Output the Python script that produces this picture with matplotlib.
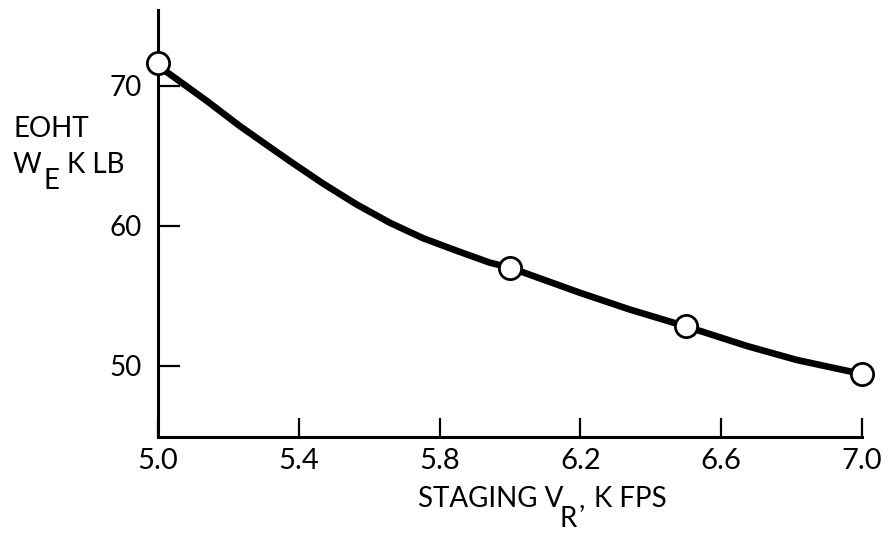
import numpy as np
import matplotlib
matplotlib.use("Agg")
import matplotlib.pyplot as plt

plt.rcParams['font.family'] = ['Lato', 'DejaVu Sans']

# data points (circles)
vr = [5.0, 6.0, 6.5, 7.0]
we = [71.6, 57.0, 52.8, 49.4]

# faired curve
curve_x = [5.0, 5.04, 5.139, 5.233, 5.318, 5.375, 5.469, 5.565, 5.659, 5.753,
           5.849, 5.943, 6.0, 6.199, 6.341, 6.5, 6.673, 6.815, 7.0]
curve_y = [71.4, 70.7, 68.9, 67.1, 65.6, 64.6, 63.0, 61.5, 60.2, 59.1,
           58.2, 57.35, 57.0, 55.2, 54.0, 52.8, 51.4, 50.4, 49.4]

xticks = [5.0, 5.4, 5.8, 6.2, 6.6, 7.0]
yticks = [50, 60, 70]

W, H = 889, 534
fig = plt.figure(figsize=(W / 100, H / 100), dpi=100)
ax = fig.add_axes([158 / W, (H - 437) / H, (862 - 158) / W, (437 - 10) / H])

ax.plot(curve_x, curve_y, color='black', lw=4.8, solid_capstyle='round',
        solid_joinstyle='round', zorder=2, clip_on=False)
ax.plot(vr, we, 'o', ms=16, mfc='white', mec='black', mew=2.0, zorder=3,
        clip_on=False)

ax.set_xlim(5.0, 7.0)
ax.set_ylim(44.9, 75.4)
ax.set_xticks(xticks)
ax.set_xticklabels(['%.1f' % t for t in xticks])
ax.set_yticks(yticks)
ax.set_yticklabels([str(t) for t in yticks])

for s in ['top', 'right']:
    ax.spines[s].set_visible(False)
for s in ['left', 'bottom']:
    ax.spines[s].set_linewidth(2.2)
ax.tick_params(axis='x', direction='in', length=14, width=1.6, labelsize=21, pad=8)
ax.tick_params(axis='y', direction='in', length=16, width=1.6, labelsize=20, pad=12)


def px(x, y, s, **kw):
    fig.text(x / W, 1 - y / H, s, fontsize=20, va='baseline', ha='left', **kw)


# y axis label
px(13, 137, 'EOHT')
px(13, 173, 'W')
px(44, 189, 'E')
px(67, 173, 'K LB')

# x axis label
px(418, 507, 'STAGING V')
px(560, 527, 'R')
px(578, 507, ',')
px(594, 507, 'K FPS')

fig.savefig('out.png', dpi=100)
